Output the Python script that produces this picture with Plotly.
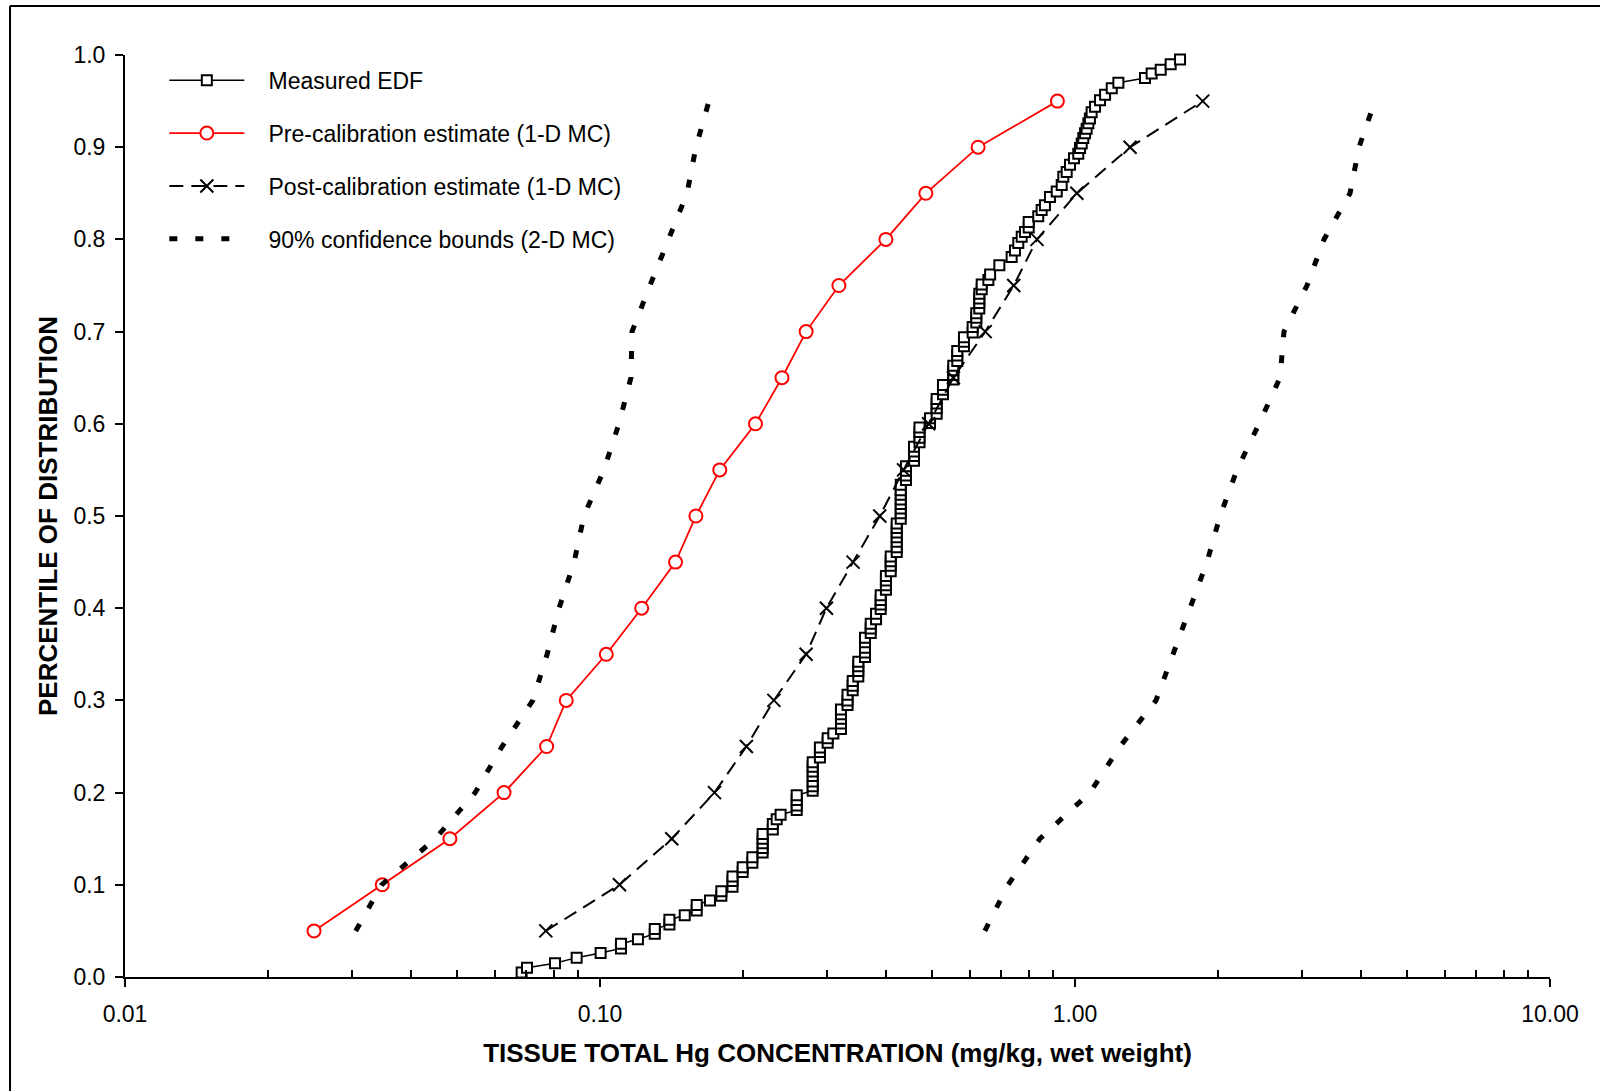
import plotly.graph_objects as go

# ---------------- data ----------------
pct_levels = [0.05, 0.10, 0.15, 0.20, 0.25, 0.30, 0.35, 0.40, 0.45, 0.50,
              0.55, 0.60, 0.65, 0.70, 0.75, 0.80, 0.85, 0.90, 0.95]

pre_cal_x = [0.0250, 0.0348, 0.0483, 0.0628, 0.0772, 0.0849, 0.1031, 0.1224, 0.1442, 0.1592,
             0.1787, 0.2125, 0.2416, 0.2716, 0.3184, 0.3998, 0.4853, 0.6252, 0.9183]

post_cal_x = [0.0769, 0.1099, 0.1416, 0.1742, 0.2033, 0.2323, 0.2716, 0.2997, 0.3410, 0.3881,
              0.4356, 0.4919, 0.5546, 0.6471, 0.7430, 0.8318, 1.009, 1.306, 1.857]

lower_bound_x = [0.0306, 0.0347, 0.0450, 0.0546, 0.0622, 0.0722, 0.0774, 0.0820, 0.0882, 0.0925,
                 0.1019, 0.1096, 0.1162, 0.1168, 0.1274, 0.1390, 0.1525, 0.1592, 0.1696]

upper_bound_x = [0.646, 0.7228, 0.8439, 1.0755, 1.2436, 1.481, 1.608, 1.747, 1.896, 2.020,
                 2.193, 2.440, 2.702, 2.754, 3.079, 3.344, 3.793, 3.962, 4.28]

edf_x = [0.0684, 0.0702, 0.0804, 0.0893, 0.1003, 0.1107, 0.1107, 0.1202, 0.1304, 0.1304,
         0.1400, 0.1400, 0.1508, 0.1598, 0.1598, 0.1704, 0.1801, 0.1801, 0.1901, 0.1901,
         0.1901, 0.1997, 0.1997, 0.2093, 0.2093, 0.2200, 0.2200, 0.2200, 0.2200, 0.2200,
         0.2311, 0.2311, 0.2355, 0.2400, 0.2595, 0.2595, 0.2595, 0.2595, 0.2804, 0.2804,
         0.2804, 0.2804, 0.2804, 0.2804, 0.2804, 0.2904, 0.2904, 0.2904, 0.3015, 0.3015,
         0.3099, 0.3216, 0.3216, 0.3216, 0.3216, 0.3216, 0.3320, 0.3320, 0.3320, 0.3404,
         0.3404, 0.3404, 0.3498, 0.3498, 0.3498, 0.3498, 0.3613, 0.3613, 0.3613, 0.3613,
         0.3613, 0.3715, 0.3715, 0.3715, 0.3812, 0.3812, 0.3899, 0.3899, 0.3899, 0.3899,
         0.3999, 0.3999, 0.3999, 0.3999, 0.4093, 0.4093, 0.4093, 0.4093, 0.4214, 0.4214,
         0.4214, 0.4214, 0.4214, 0.4214, 0.4214, 0.4297, 0.4297, 0.4297, 0.4297, 0.4297,
         0.4297, 0.4297, 0.4297, 0.4407, 0.4407, 0.4407, 0.4407, 0.4582, 0.4582, 0.4582,
         0.4582, 0.4706, 0.4706, 0.4706, 0.4706, 0.4952, 0.4952, 0.5114, 0.5114, 0.5114,
         0.5114, 0.5273, 0.5273, 0.5273, 0.5543, 0.5543, 0.5543, 0.5543, 0.5651, 0.5651,
         0.5651, 0.5838, 0.5838, 0.5838, 0.6089, 0.6089, 0.6197, 0.6197, 0.6197, 0.6288,
         0.6288, 0.6288, 0.6288, 0.6362, 0.6362, 0.6571, 0.6626, 0.6930, 0.7356, 0.7475,
         0.7596, 0.7723, 0.7847, 0.7990, 0.7990, 0.8368, 0.8508, 0.8644, 0.8857, 0.9152,
         0.9376, 0.9449, 0.9605, 0.9761, 0.9952, 1.016, 1.0245, 1.033, 1.041, 1.050,
         1.058, 1.067, 1.075, 1.084, 1.102, 1.129, 1.157, 1.195, 1.234, 1.404,
         1.450, 1.515, 1.590, 1.664]

edf_y = [0.005, 0.010, 0.015, 0.021, 0.026, 0.031, 0.036, 0.041, 0.047, 0.052,
         0.057, 0.062, 0.067, 0.072, 0.078, 0.083, 0.088, 0.093, 0.098, 0.104,
         0.109, 0.114, 0.119, 0.124, 0.130, 0.135, 0.140, 0.145, 0.150, 0.155,
         0.160, 0.166, 0.171, 0.176, 0.181, 0.186, 0.192, 0.197, 0.202, 0.207,
         0.212, 0.218, 0.223, 0.228, 0.233, 0.238, 0.244, 0.249, 0.254, 0.259,
         0.264, 0.269, 0.275, 0.280, 0.285, 0.290, 0.295, 0.300, 0.306, 0.311,
         0.316, 0.321, 0.326, 0.332, 0.337, 0.342, 0.347, 0.352, 0.357, 0.363,
         0.368, 0.373, 0.378, 0.383, 0.388, 0.394, 0.399, 0.404, 0.409, 0.414,
         0.420, 0.425, 0.430, 0.435, 0.440, 0.446, 0.451, 0.456, 0.461, 0.466,
         0.472, 0.477, 0.482, 0.487, 0.492, 0.497, 0.503, 0.508, 0.513, 0.518,
         0.523, 0.528, 0.534, 0.539, 0.544, 0.549, 0.554, 0.560, 0.565, 0.570,
         0.575, 0.580, 0.585, 0.591, 0.596, 0.601, 0.606, 0.611, 0.617, 0.622,
         0.627, 0.632, 0.637, 0.642, 0.648, 0.653, 0.658, 0.663, 0.668, 0.674,
         0.679, 0.684, 0.689, 0.694, 0.699, 0.705, 0.710, 0.715, 0.720, 0.725,
         0.731, 0.736, 0.741, 0.746, 0.751, 0.756, 0.762, 0.772, 0.781, 0.788,
         0.796, 0.803, 0.808, 0.813, 0.819, 0.825, 0.832, 0.837, 0.846, 0.852,
         0.859, 0.868, 0.873, 0.881, 0.888, 0.893, 0.899, 0.904, 0.910, 0.915,
         0.920, 0.926, 0.931, 0.938, 0.944, 0.951, 0.957, 0.964, 0.970, 0.975,
         0.980, 0.984, 0.990, 0.995]

x_major_ticks = [0.01, 0.1, 1, 10]
x_major_labels = ["0.01", "0.10", "1.00", "10.00"]
y_ticks = [0.0, 0.1, 0.2, 0.3, 0.4, 0.5, 0.6, 0.7, 0.8, 0.9, 1.0]

series_names = ["Measured EDF", "Pre-calibration estimate (1-D MC)",
                "Post-calibration estimate (1-D MC)", "90% confidence bounds (2-D MC)"]

FONT = "Liberation Sans, Arial, Helvetica, sans-serif"
GAP = "\u00a0\u00a0\u00a0"   # visual gap between legend sample and its text
x_minor_ticks = [m * d for d in (0.01, 0.1, 1) for m in range(2, 10)]

fig = go.Figure()

fig.add_trace(go.Scatter(
    x=edf_x, y=edf_y, mode="lines+markers", name=GAP + series_names[0], legendgroup="g1",
    line=dict(color="black", width=1.5),
    marker=dict(symbol="square", size=10, color="white", line=dict(color="black", width=2)),
    cliponaxis=False))

fig.add_trace(go.Scatter(
    x=pre_cal_x, y=pct_levels, mode="lines+markers", name=GAP + series_names[1], legendgroup="g2",
    line=dict(color="#ff0000", width=1.8),
    marker=dict(symbol="circle", size=13, color="white", line=dict(color="#ff0000", width=2)),
    cliponaxis=False))

fig.add_trace(go.Scatter(
    x=post_cal_x, y=pct_levels, mode="lines+markers", name=GAP + series_names[2], legendgroup="g3",
    line=dict(color="black", width=2, dash="14px,8px"),
    marker=dict(symbol="x-thin", size=13, color="black", line=dict(color="black", width=2)),
    cliponaxis=False))

fig.add_trace(go.Scatter(
    x=lower_bound_x, y=pct_levels, mode="lines", name=GAP + series_names[3], legendgroup="g4",
    line=dict(color="black", width=5, dash="8px,18px"), cliponaxis=False))

fig.add_trace(go.Scatter(
    x=upper_bound_x, y=pct_levels, mode="lines", name=GAP + series_names[3], legendgroup="g4",
    showlegend=False,
    line=dict(color="black", width=5, dash="8px,18px"), cliponaxis=False))

fig.update_layout(
    width=1600, height=1091,
    margin=dict(l=125, r=50, t=55, b=114, autoexpand=False),
    paper_bgcolor="white", plot_bgcolor="white",
    font=dict(family=FONT, color="black", size=23),
    showlegend=True,
    legend=dict(x=0.0276, y=0.996, xanchor="left", yanchor="top",
                font=dict(family=FONT, size=23, color="black"),
                bgcolor="rgba(0,0,0,0)", borderwidth=0,
                itemwidth=75, tracegroupgap=20, traceorder="grouped"),
    xaxis=dict(type="log", range=[-2, 1], tickmode="array",
               tickvals=x_major_ticks, ticktext=x_major_labels,
               ticks="outside", ticklen=8, tickwidth=1.5, tickcolor="black",
               ticklabelstandoff=7,
               showline=True, linewidth=2, linecolor="black",
               showgrid=False, zeroline=False,
               tickfont=dict(family=FONT, size=23),
               minor=dict(ticks="inside", ticklen=7, tickwidth=1.5, tickcolor="black",
                          tickmode="array", tickvals=x_minor_ticks, showgrid=False),
               title=dict(text="TISSUE TOTAL Hg CONCENTRATION (mg/kg, wet weight)",
                          font=dict(family=FONT, size=26, weight="bold"), standoff=18),
               automargin=False),
    xaxis2=dict(type="log", range=[-2, 1], overlaying="x", anchor="y", side="bottom",
                tickmode="array", tickvals=x_major_ticks, ticks="inside", ticklen=7,
                tickwidth=1.5, tickcolor="black", showticklabels=False,
                showline=False, showgrid=False, zeroline=False),
    yaxis=dict(range=[0, 1], tickmode="array", tickvals=y_ticks, tickformat=".1f",
               ticks="outside", ticklen=8, tickwidth=1.5, tickcolor="black",
               ticklabelstandoff=5,
               showline=True, linewidth=2, linecolor="black",
               showgrid=False, zeroline=False,
               tickfont=dict(family=FONT, size=23),
               title=dict(text="PERCENTILE OF DISTRIBUTION",
                          font=dict(family=FONT, size=26, weight="bold"), standoff=8),
               automargin=False),
)

# outer frame of the figure (left and top edges visible in the original)
fig.add_shape(type="line", xref="paper", yref="paper",
              x0=-0.0807, x1=-0.0807, y0=1.0531, y1=-0.14,
              line=dict(color="black", width=2))
fig.add_shape(type="line", xref="paper", yref="paper",
              x0=-0.0807, x1=1.05, y0=1.0531, y1=1.0531,
              line=dict(color="black", width=2))

fig.write_html("out.html")
